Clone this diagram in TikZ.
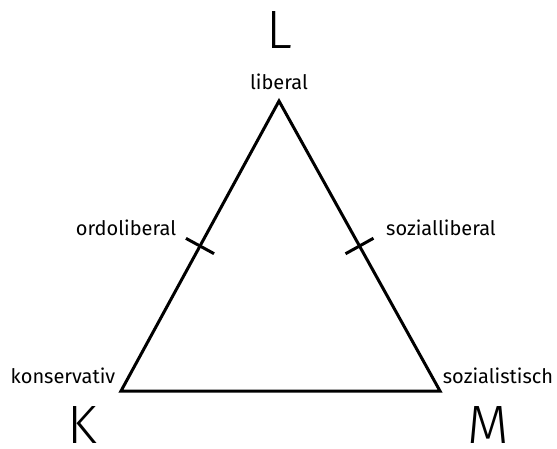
\documentclass[tikz,border=0pt]{standalone}
\usepackage{fontspec}
\setmainfont{Fira Sans}
\newfontfamily\polefont{Fira Sans Light}
\usetikzlibrary{calc,positioning}

\tikzset{
  pole/.style={inner sep=0pt,anchor=base,font=\polefont\fontsize{54}{60}\selectfont},
  lbl/.style={inner sep=0pt,anchor=base,font=\fontsize{20}{24}\selectfont},
}

\begin{document}
\begin{tikzpicture}[x=1pt,y=-1pt,line width=3pt]
  \useasboundingbox (0,0) rectangle (557,448);
  \coordinate (Lc) at (279,101);
  \coordinate (Kc) at (121,391);
  \coordinate (Mc) at (440,391);
  \draw[line join=miter] (Lc) -- (Kc) -- (Mc) -- cycle;
  % ticks on the two upper sides
  \coordinate (ordo) at ($(Kc)!0.5!(Lc)$);
  \coordinate (sozl) at ($(Mc)!0.5!(Lc)$);
  \foreach \p in {ordo,sozl}
    \draw ($(\p)!16pt!90:(Lc)$) -- ($(\p)!16pt!-90:(Lc)$);
  % labels
  \node[pole] (L) at (279,48) {L};
  \node[pole] (K) at (82,443) {K};
  \node[pole] (M) at (488,443) {M};
  \node[lbl] (lib) at (279,89) {liberal};
  \node[lbl] (ordol) at (126,235) {ordoliberal};
  \node[lbl] (sozlib) at (441,235) {sozialliberal};
  \node[lbl] (kons) at (63,383) {konservativ};
  \node[lbl] (sozi) at (498,383) {sozialistisch};
\end{tikzpicture}
\end{document}
